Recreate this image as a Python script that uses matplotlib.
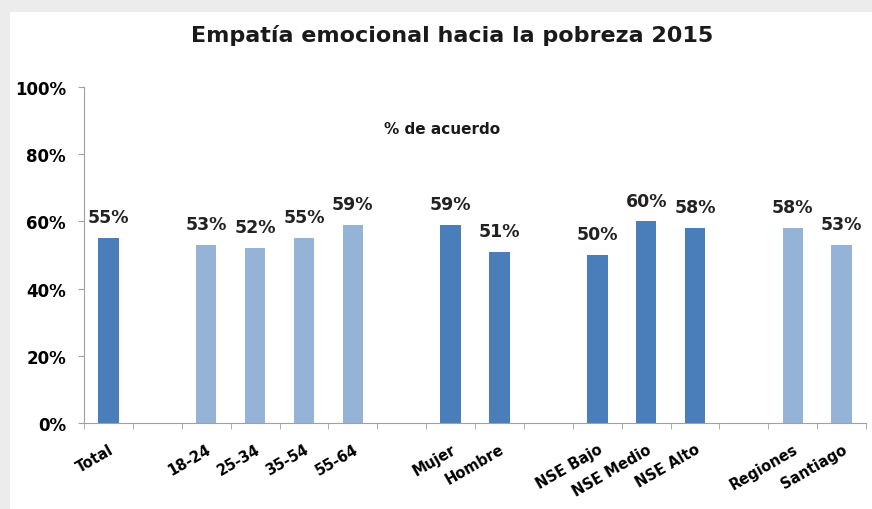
import matplotlib
matplotlib.use("Agg")
import matplotlib.pyplot as plt
from matplotlib.patches import Rectangle
from matplotlib.ticker import FuncFormatter, MultipleLocator
import numpy as np

plt.rcParams['font.family'] = ['DejaVu Sans']

# categories with empty slots between groups
labels = ["Total", "", "18-24", "25-34", "35-54", "55-64", "",
          "Mujer", "Hombre", "", "NSE Bajo", "NSE Medio", "NSE Alto", "",
          "Regiones", "Santiago"]
values = [55, None, 53, 52, 55, 59, None,
          59, 51, None, 50, 60, 58, None,
          58, 53]
shade = ["dark", None, "light", "light", "light", "light", None,
         "dark", "dark", None, "dark", "dark", "dark", None,
         "light", "light"]

colors = {"dark": "#4a7ebb", "light": "#95b3d7"}

fig = plt.figure(figsize=(8.72, 5.1), dpi=100)
fig.patch.set_facecolor("#ececec")
# white card with a soft edge
fig.patches.append(Rectangle((0.012, 0.0), 0.988, 0.975, transform=fig.transFigure,
                             facecolor="white", edgecolor="none", zorder=-1))

ax = fig.add_axes([0.0963, 0.1686, 0.897, 0.659])
ax.set_facecolor("white")

for i, (v, s) in enumerate(zip(values, shade)):
    if v is None:
        continue
    ax.bar(i, v, width=0.42, color=colors[s], zorder=2)
    ax.text(i, v + 3.5, f"{v}%", ha="center", va="bottom",
            fontsize=12.5, fontweight="bold", color="#222222")

ax.set_xlim(-0.5, len(labels) - 0.5)
ax.set_ylim(0, 100)
ax.yaxis.set_major_locator(MultipleLocator(20))
ax.yaxis.set_major_formatter(FuncFormatter(lambda y, _: f"{int(y)}%"))

ax.set_xticks(np.arange(len(labels)))
ax.set_xticklabels(labels, rotation=30, ha="right", rotation_mode="anchor",
                   fontsize=10.5, fontweight="bold")
ax.set_xticks(np.arange(len(labels) + 1) - 0.5, minor=True)
ax.tick_params(axis="x", which="major", length=0, pad=13)
ax.tick_params(axis="x", which="minor", length=4, color="#a0a0a0", direction="out")
ax.tick_params(axis="y", length=4, color="#a0a0a0", pad=9, labelsize=12)
for t in ax.get_yticklabels():
    t.set_fontweight("bold")

for side in ["top", "right"]:
    ax.spines[side].set_visible(False)
for side in ["left", "bottom"]:
    ax.spines[side].set_color("#a0a0a0")

fig.text(0.518, 0.93, "Empatía emocional hacia la pobreza 2015", ha="center", va="center",
         fontsize=16, fontweight="bold", color="#1a1a1a")
ax.text(0.458, 0.875, "% de acuerdo", transform=ax.transAxes, ha="center", va="center",
        fontsize=11, fontweight="bold", color="#1a1a1a")

fig.savefig("out.png", dpi=100, facecolor=fig.get_facecolor())
